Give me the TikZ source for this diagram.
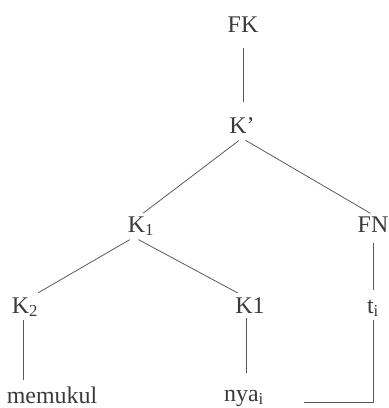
\documentclass[tikz,border=0pt]{standalone}
\usepackage{fontspec}
\setmainfont{Liberation Serif}
\usepackage{tikz}
\usepackage{xcolor}

\definecolor{inkgray}{HTML}{3A3A3A}
\definecolor{linegray}{HTML}{5A5A5A}

\tikzset{
    cat/.style={anchor=base, inner sep=1bp, text height=16bp, text depth=4bp,
        text=inkgray, font=\fontsize{24}{28}\selectfont},
    branch/.style={draw=linegray, line width=0.8pt}
}

\begin{document}
\begin{tikzpicture}[x=1bp, y=-1bp]

        \useasboundingbox (0,0) rectangle (389,408);

        \node[cat] (fk)      at (243,32)  {FK};
        \node[cat] (kbar)    at (242,133) {K’};
        \node[cat] (k1)      at (141,232) {K\textsubscript{1}};
        \node[cat] (fn)      at (373,232) {FN};
        \node[cat] (k2)      at (25,313)  {K\textsubscript{2}};
        \node[cat] (kone)    at (250,313) {K1};
        \node[cat] (ti)      at (373,313) {t\textsubscript{i}};
        \node[cat] (memukul) at (52,403)  {memukul};
        \node[cat] (nya)     at (244,401) {nya\textsubscript{i}};

        \draw[branch, shorten <=11bp, shorten >=14bp] (fk.south) -- (fk.south |- kbar.north);
        \draw[branch, shorten <=4bp, shorten >=3bp] (kbar.south) -- (k1.north);
        \draw[branch, shorten <=4bp, shorten >=3bp] (kbar.south) -- (fn.north);
        \draw[branch, shorten <=5bp, shorten >=6bp] ([xshift=-7bp]k1.south) -- ([xshift=8bp]k2.north);
        \draw[branch, shorten <=5bp, shorten >=6bp] ([xshift=-7bp]k1.south) -- ([xshift=-7bp]kone.north);
        \draw[branch, shorten <=6bp, shorten >=6bp] (fn.south) -- (fn.south |- ti.north);
        \draw[branch, shorten <=2bp, shorten >=6bp] ([xshift=-2bp]k2.south) -- ([xshift=-2bp]memukul.north -| k2.south);
        \draw[branch, shorten >=11bp] ([xshift=-4bp]kone.south) -- ([xshift=-4bp]nya.north -| kone.south);
        \draw[branch, shorten <=2bp, shorten >=39bp] (ti.south) |- ([yshift=-7bp]nya.east);

    \end{tikzpicture}
\end{document}
